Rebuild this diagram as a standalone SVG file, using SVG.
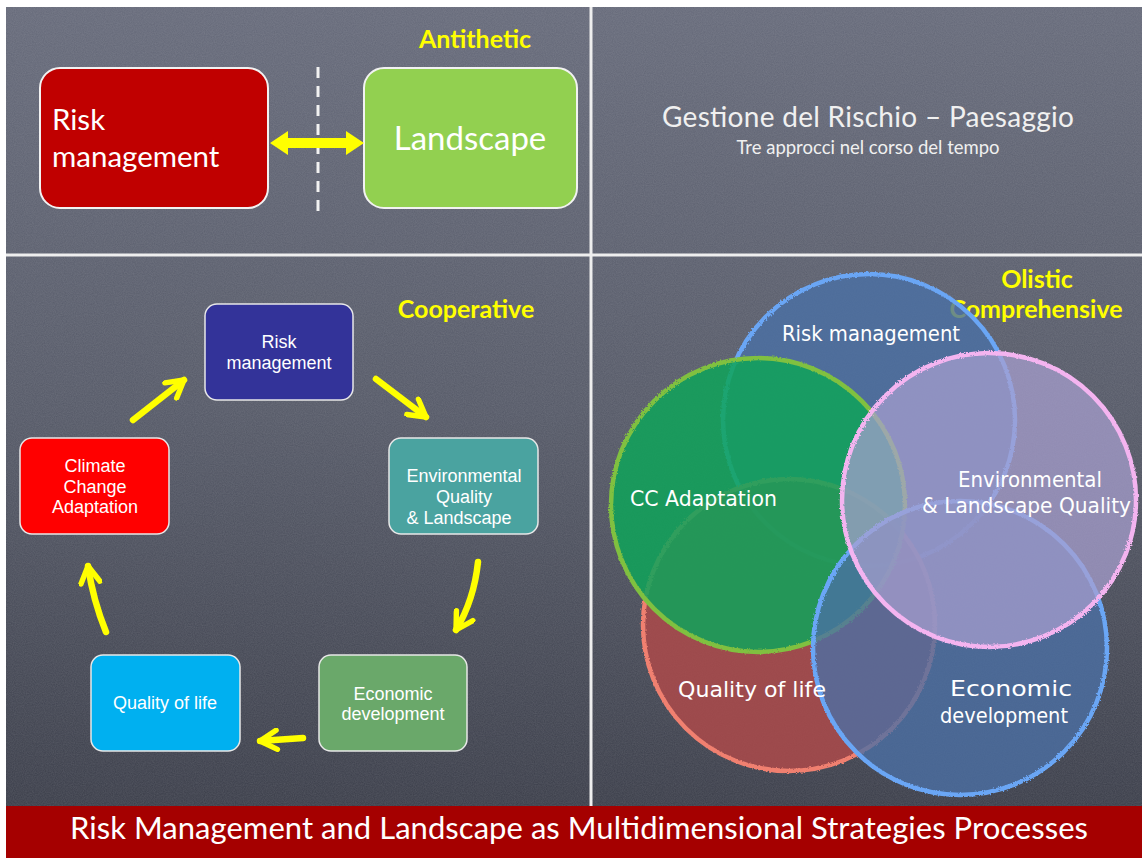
<svg xmlns="http://www.w3.org/2000/svg" width="1142" height="858" viewBox="0 0 1142 858">
<defs>
<linearGradient id="bg" x1="0" y1="0" x2="0" y2="1">
<stop offset="0" stop-color="#656979"/>
<stop offset="0.5" stop-color="#555967"/>
<stop offset="1" stop-color="#3a3d49"/>
</linearGradient>
<filter id="chalk" x="0" y="0" width="1" height="1">
<feTurbulence type="fractalNoise" baseFrequency="0.9" numOctaves="2" seed="3"/>
<feColorMatrix type="matrix" values="0 0 0 0 1  0 0 0 0 1  0 0 0 0 1  0 0 0 0.12 0"/>
</filter>
<filter id="rough" x="-5%" y="-5%" width="110%" height="110%">
<feTurbulence type="fractalNoise" baseFrequency="0.6" numOctaves="2" seed="7" result="n"/>
<feDisplacementMap in="SourceGraphic" in2="n" scale="3"/>
</filter>
<marker id="chev" viewBox="0 0 20 20" refX="17" refY="10" markerWidth="24" markerHeight="24" markerUnits="userSpaceOnUse" orient="auto">
<path d="M3,2 L17,10 L3,18" fill="none" stroke="#ffff00" stroke-width="4.5" stroke-linecap="round" stroke-linejoin="round"/>
</marker>
</defs>
<style>
.cal{font-family:Lato,"Open Sans","Liberation Sans",sans-serif;}
.ari{font-family:"Liberation Sans",Arial,sans-serif;font-size:18px;fill:#fff;text-anchor:middle;}
.hand{font-family:"DejaVu Sans","Liberation Sans",sans-serif;font-size:21px;fill:#fff;}
.ylab{font-family:Lato,"Open Sans","Liberation Sans",sans-serif;font-weight:bold;font-size:25px;fill:#ffff00;}
.box{stroke:#e8e8e8;stroke-width:1.5;}
.arr{fill:none;stroke:#ffff00;stroke-width:6.5;stroke-linecap:round;marker-end:url(#chev);}
.circ{stroke-width:4.5;filter:url(#rough);}
.div{stroke:#eeeeee;stroke-width:3;}
</style>
<rect x="0" y="0" width="1142" height="858" fill="#ffffff"/>
<rect x="6" y="7" width="1136" height="800" fill="url(#bg)"/>
<rect x="6" y="7" width="1136" height="800" filter="url(#chalk)"/>
<line class="div" x1="591" y1="7" x2="591" y2="807"/>
<line class="div" x1="6" y1="255" x2="1142" y2="255"/>

<g id="antithetic-label"><text class="ylab" x="475" y="48" text-anchor="middle">Antithetic</text></g>
<g id="node-risk-top">
<rect x="40" y="68" width="228" height="140" rx="20" fill="#c00000" stroke="#f2f2f2" stroke-width="2"/>
<text class="cal" x="52" y="130" font-size="29.5" fill="#fff">Risk</text>
<text class="cal" x="52" y="167" font-size="29.5" fill="#fff">management</text>
</g>
<g id="node-landscape-top">
<rect x="364" y="68" width="213" height="140" rx="20" fill="#92d050" stroke="#f2f2f2" stroke-width="2"/>
<text class="cal" x="470" y="150" font-size="33" fill="#fff" text-anchor="middle">Landscape</text>
</g>
<g id="connectors-top">
<line x1="318" y1="67" x2="318" y2="216" stroke="#f2f2f2" stroke-width="3" stroke-dasharray="11,8"/>
<polygon points="270,143 288,131 288,138 346,138 346,131 364,143 346,155 346,148 288,148 288,155" fill="#ffff00"/>
</g>

<g id="title">
<text class="cal" x="868" y="127" font-size="28" fill="#f0f0f0" text-anchor="middle" textLength="412">Gestione del Rischio – Paesaggio</text>
<text class="cal" x="868" y="154" font-size="18.5" fill="#f0f0f0" text-anchor="middle">Tre approcci nel corso del tempo</text>
</g>

<g id="cooperative-label"><text class="ylab" x="466" y="318" text-anchor="middle">Cooperative</text></g>
<g id="node-risk">
<rect class="box" x="205" y="304" width="148" height="96" rx="12" fill="#333399"/>
<text class="ari" x="279" y="348">Risk</text>
<text class="ari" x="279" y="369">management</text>
</g>
<g id="node-env">
<rect class="box" x="389" y="438" width="149" height="96" rx="12" fill="#4aa3a0"/>
<text class="ari" x="464" y="482">Environmental</text>
<text class="ari" x="464" y="503">Quality</text>
<text class="ari" x="459" y="524">&amp; Landscape</text>
</g>
<g id="node-econ">
<rect class="box" x="319" y="655" width="148" height="96" rx="12" fill="#6aa86a"/>
<text class="ari" x="393" y="700">Economic</text>
<text class="ari" x="393" y="720">development</text>
</g>
<g id="node-qol">
<rect class="box" x="91" y="655" width="149" height="96" rx="12" fill="#00b0f0"/>
<text class="ari" x="165" y="709">Quality  of life</text>
</g>
<g id="node-cca">
<rect class="box" x="20" y="438" width="149" height="96" rx="12" fill="#ff0000"/>
<text class="ari" x="95" y="472">Climate</text>
<text class="ari" x="95" y="493">Change</text>
<text class="ari" x="95" y="513">Adaptation</text>
</g>
<g id="connectors">
<path class="arr" d="M133,420 L184,380"/>
<path class="arr" d="M376,379 L426,417"/>
<path class="arr" d="M478,562 Q474,600 456,630"/>
<path class="arr" d="M303,738 L260,741"/>
<path class="arr" d="M106,632 Q93,600 88,566"/>
</g>

<g id="olistic-label">
<text class="ylab" x="1037" y="288" text-anchor="middle">Olistic</text>
<text class="ylab" x="1036" y="318" text-anchor="middle">Comprehensive</text>
</g>
<g id="circle-risk"><circle class="circ" cx="869" cy="420" r="146" fill="#4a6fa5" fill-opacity="0.8" stroke="#6aa6f5"/></g>
<g id="circle-qol"><circle class="circ" cx="789" cy="625" r="146" fill="#b04a4a" fill-opacity="0.82" stroke="#f08070"/></g>
<g id="circle-cca"><circle class="circ" cx="758" cy="505" r="147" fill="#10a35a" fill-opacity="0.85" stroke="#80c040"/></g>
<g id="circle-econ"><circle class="circ" cx="960" cy="648" r="147" fill="#4a6fa5" fill-opacity="0.78" stroke="#6aa6f5"/></g>
<g id="circle-env"><circle class="circ" cx="989" cy="500" r="147" fill="#a8a0d0" fill-opacity="0.72" stroke="#f4b4f0"/></g>
<g id="circle-labels">
<text class="hand" x="782" y="341" textLength="178" lengthAdjust="spacingAndGlyphs">Risk management</text>
<text class="hand" x="630" y="506" textLength="147" lengthAdjust="spacingAndGlyphs">CC Adaptation</text>
<text class="hand" x="958" y="487" textLength="144" lengthAdjust="spacingAndGlyphs">Environmental</text>
<text class="hand" x="922" y="513" textLength="209" lengthAdjust="spacingAndGlyphs">&amp; Landscape Quality</text>
<text class="hand" x="678" y="697" textLength="148" lengthAdjust="spacingAndGlyphs">Quality of life</text>
<text class="hand" x="950" y="696" textLength="122" lengthAdjust="spacingAndGlyphs">Economic</text>
<text class="hand" x="940" y="723" textLength="128" lengthAdjust="spacingAndGlyphs">development</text>
</g>

<g id="banner">
<rect x="6" y="806" width="1136" height="52" fill="#a50000"/>
<text class="cal" x="579" y="839" font-size="31" fill="#fff" text-anchor="middle" textLength="1018">Risk Management and Landscape as Multidimensional Strategies Processes</text>
</g>
</svg>
